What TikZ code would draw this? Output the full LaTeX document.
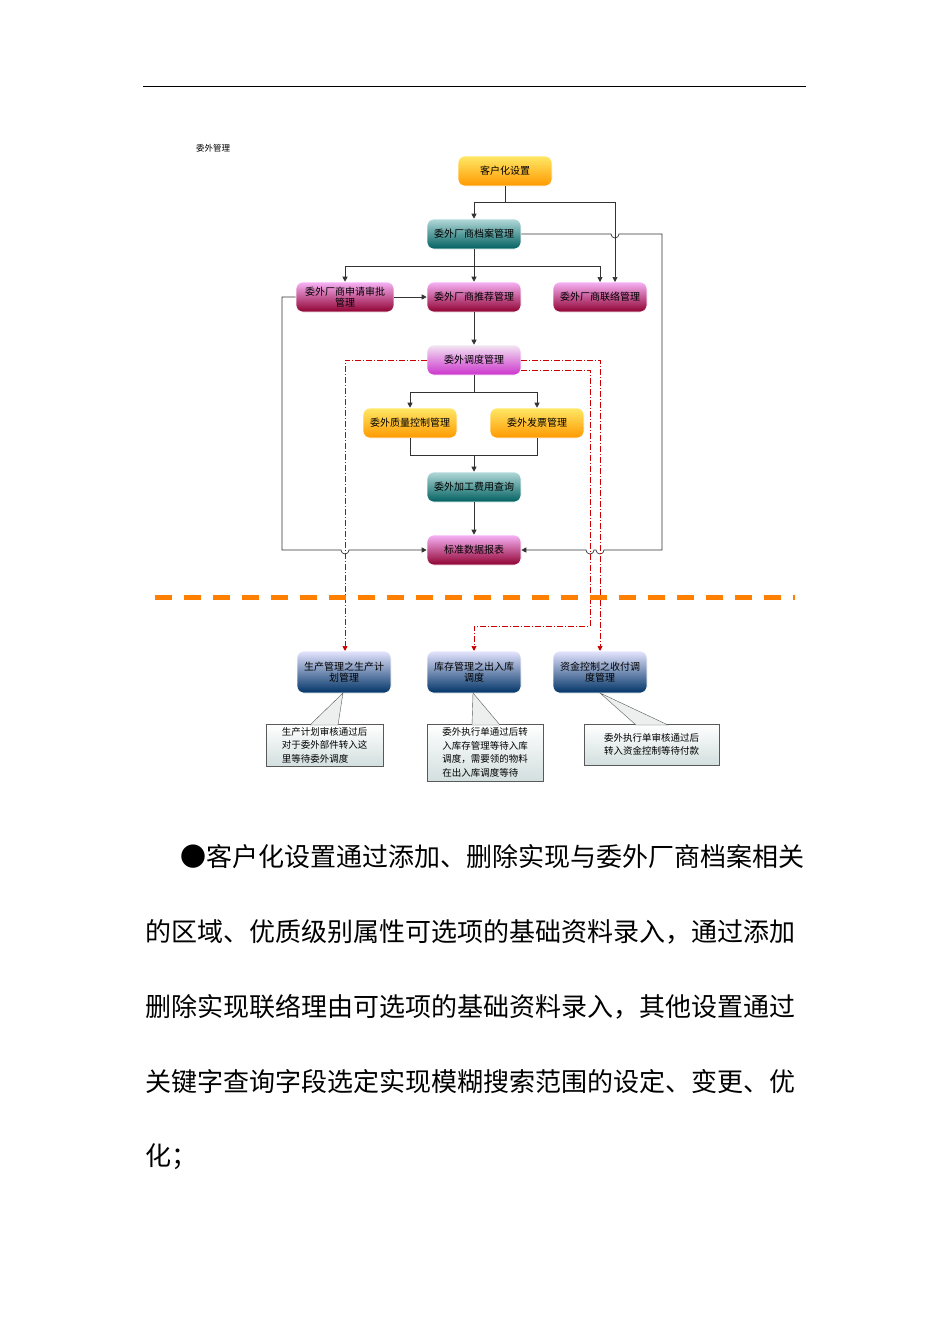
\documentclass[tikz,border=0pt]{standalone}
\usepackage{fontspec}
\setmainfont{Noto Sans CJK SC}
\usetikzlibrary{arrows.meta}
\begin{document}
\begin{tikzpicture}[x=1pt,y=-1pt,
 box/.style={rounded corners=7pt,minimum width=94pt,minimum height=30pt,inner sep=1pt,align=center,font=\fontsize{10}{11.5}\selectfont,draw=white,line width=0.6pt},
 org/.style={box,top color=orange!30!yellow!60,bottom color=orange!80!yellow},
 grn/.style={box,top color=teal!30,bottom color=teal!75!black},
 pur/.style={box,top color=violet!20!magenta!30,bottom color=violet!50!red!75!black},
 vio/.style={box,top color=violet!10,bottom color=violet!50!magenta!80},
 blu/.style={box,minimum height=42pt,top color=blue!10,bottom color=blue!50!cyan!40!black,text=black},
 note/.style={draw=gray!70!black,top color=white,bottom color=cyan!15!gray!30,align=left,inner sep=2pt,font=\fontsize{9.5}{13.5}\selectfont},
 ln/.style={draw=black!80,line width=0.7pt},
 ar/.style={ln,-{Triangle[length=5pt,width=5pt]}},
 red/.style={draw=red!60!black,line width=0.7pt,dash pattern=on 6pt off 2pt on 1pt off 2pt},
 rar/.style={red,-{Triangle[length=5pt,width=5pt]},draw=red!80!black},
 body/.style={font=\fontsize{26}{28}\selectfont,anchor=west,inner sep=0}]
\useasboundingbox (0,0) rectangle (950,1344);
\fill[white] (0,0) rectangle (950,1344);
\draw[line width=0.8pt] (143,86) coordinate(h1) -- (806,86) coordinate(h2);
\node[font=\fontsize{8.5}{9}\selectfont] (title) at (213,148) {委外管理};

\node[org] (kh) at (505,171) {客户化设置};
\node[grn] (da) at (474,234) {委外厂商档案管理};
\node[pur,minimum width=98pt] (sq) at (345,297) {委外厂商申请审批\\管理};
\node[pur] (tj) at (474,297) {委外厂商推荐管理};
\node[pur] (ll) at (600,297) {委外厂商联络管理};
\node[vio] (dd) at (474,360) {委外调度管理};
\node[org] (zl) at (410,423) {委外质量控制管理};
\node[org] (fp) at (537,423) {委外发票管理};
\node[grn] (jg) at (474,487) {委外加工费用查询};
\node[pur] (bb) at (474,550) {标准数据报表};

\draw[ln] (kh.south) -- (505,202) coordinate(k1);
\draw[ar] (k1) -| (da.north);
\draw[ar] (k1) -| (615,282) coordinate(ll2);
\draw[ar] (da.south) -- (tj.north);
\draw[ln] (474,266) coordinate(b1) -- (345,266);
\draw[ar] (345,266) -- (sq.north);
\draw[ar] (474,266) -| (600,282);
\draw[ar] (sq.east) -- (tj.west);
\draw[ar] (tj.south) -- (dd.north);
\draw[ar] (dd.south) -- (474,392) -| (zl.north);
\draw[ar] (474,392) -| (fp.north);
\draw[ln] (zl.south) |- (474,455);
\draw[ln] (fp.south) |- (474,455);
\draw[ar] (474,455) -- (jg.north);
\draw[ar] (jg.south) -- (bb.north);
\draw[ar] (da.east) -- (611,234) arc(180:0:4) -- (662,234) -- (662,550) -- (604,550) arc(0:180:4) -- (594,550) arc(0:180:4) -- (bb.east);
\draw[ar] (sq.west) -- (282,297) -- (282,550) -- (341,550) arc(180:0:4) -- (bb.west);

\draw[rar] (dd.west) -- (345,360) -- (345,651);
\draw[rar] (dd.east) -- (600,360) -- (600,651);
\coordinate (dr) at (521,370);
\draw[rar] (dr) -- (590,370) -- (590,626) -- (474,626) -- (474,651);

\draw[orange,line width=5pt,dash pattern=on 17pt off 12pt] (155,597) -- (795,597);

\node[blu] (sc) at (344,672) {生产管理之生产计\\划管理};
\node[blu] (kc) at (474,672) {库存管理之出入库\\调度};
\node[blu] (zj) at (600,672) {资金控制之收付调\\度管理};

\node[note,minimum width=117pt,minimum height=42pt] (n1) at (324.5,745) {生产计划审核通过后\\对于委外部件转入这\\里等待委外调度};
\node[note,minimum width=116pt,minimum height=57pt] (n2) at (485,752.5) {委外执行单通过后转\\入库存管理等待入库\\调度，需要领的物料\\在出入库调度等待};
\node[note,minimum width=135pt,minimum height=41pt] (n3) at (651.5,744.5) {委外执行单审核通过后\\转入资金控制等待付款};
\filldraw[draw=gray!70!black,fill=cyan!8!gray!15] (343,693) -- (310,725) -- (338,725) -- cycle;
\filldraw[draw=gray!70!black,fill=cyan!8!gray!15] (473,693) -- (472,725) -- (500,725) -- cycle;
\filldraw[draw=gray!70!black,fill=cyan!8!gray!15] (600,693) -- (636,725) -- (668,725) -- cycle;

\node[body] (t1) at (180,857) {●客户化设置通过添加、删除实现与委外厂商档案相关};
\node[body] (t2) at (145,932) {的区域、优质级别属性可选项的基础资料录入，通过添加};
\node[body] (t3) at (145,1007) {删除实现联络理由可选项的基础资料录入，其他设置通过};
\node[body] (t4) at (145,1082) {关键字查询字段选定实现模糊搜索范围的设定、变更、优};
\node[body] (t5) at (145,1157) {化；};
\end{tikzpicture}
\end{document}
